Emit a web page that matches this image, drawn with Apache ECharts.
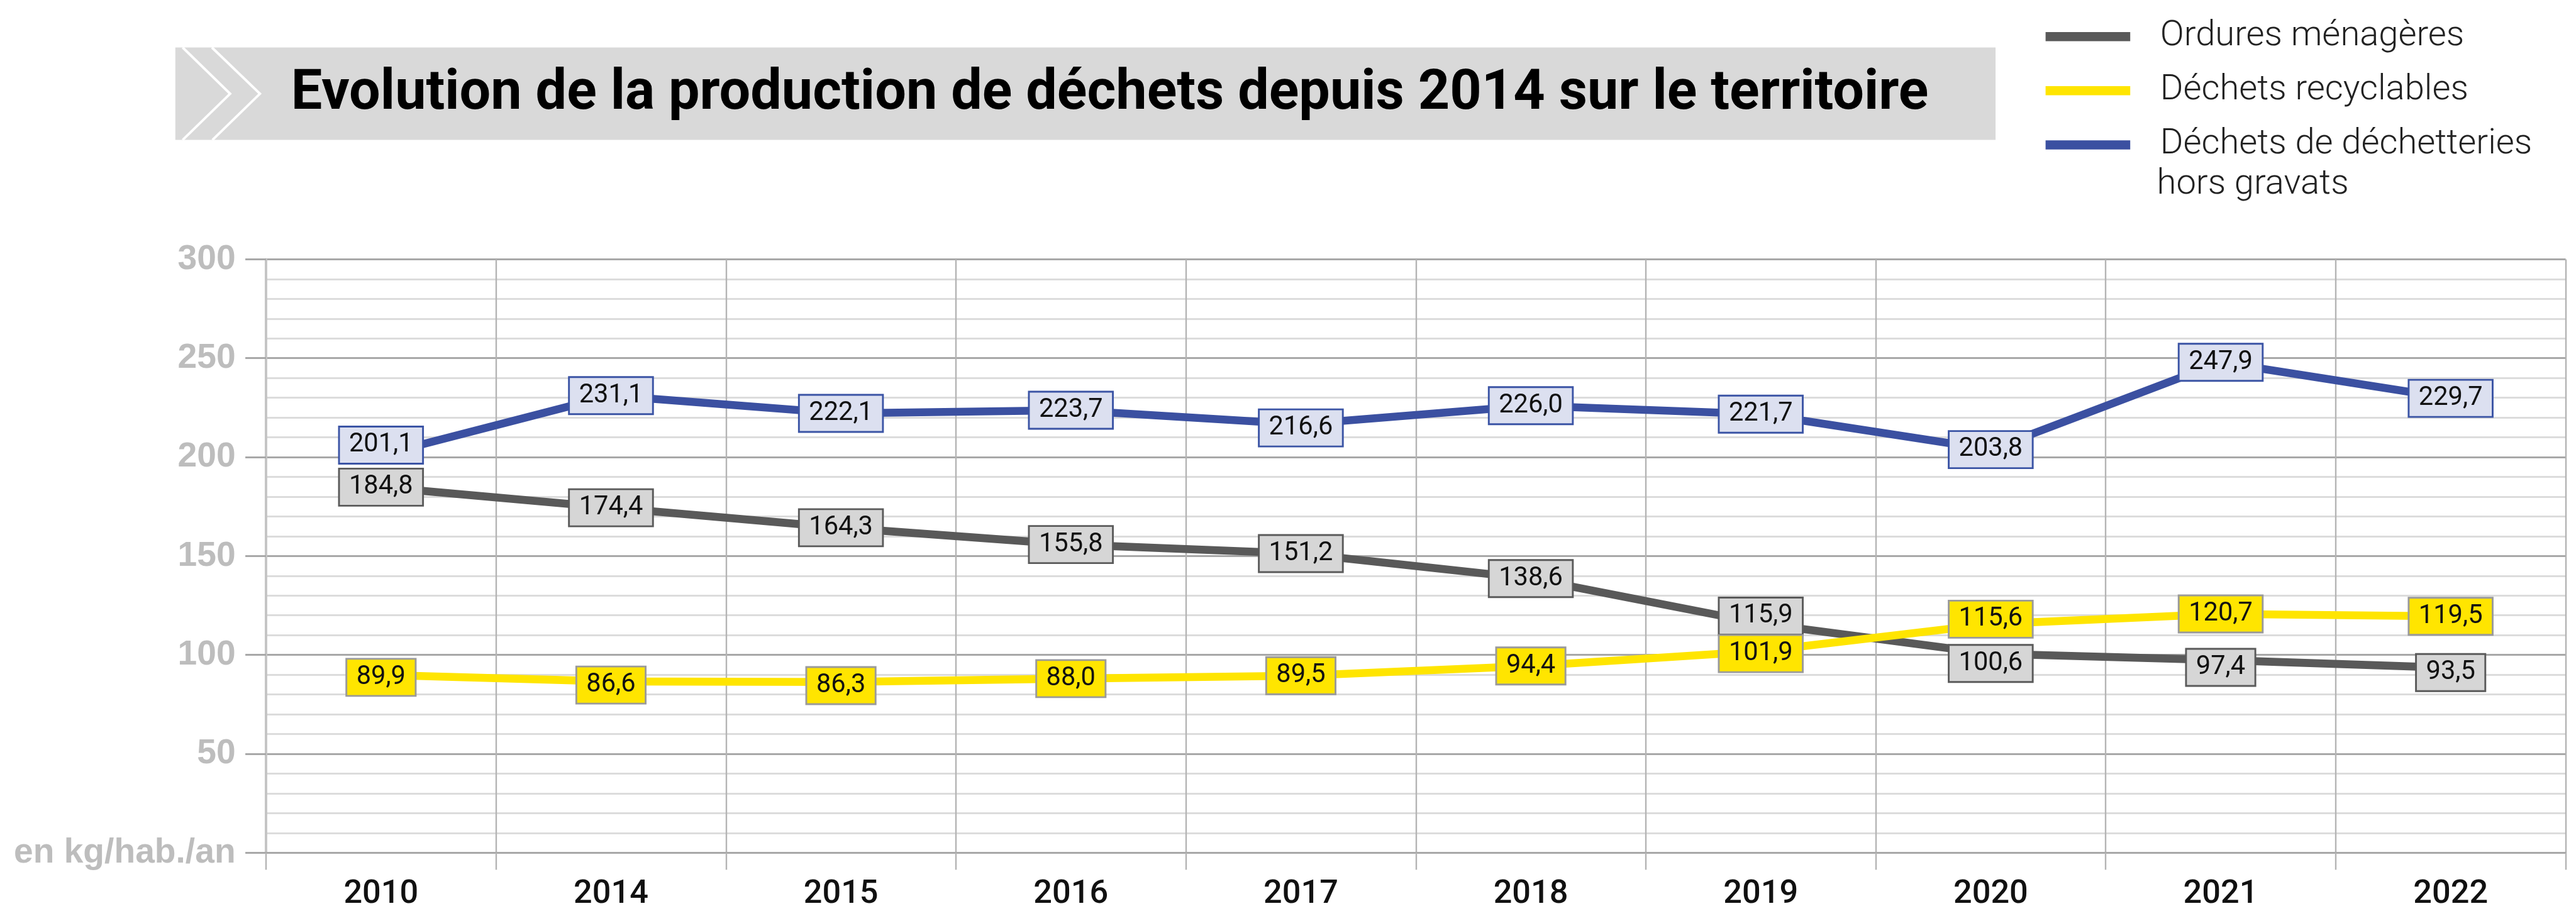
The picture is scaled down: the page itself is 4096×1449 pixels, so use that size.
<!DOCTYPE html>
<html>
<head>
<meta charset="utf-8">
<title>Evolution de la production de déchets</title>
<script src="https://cdn.jsdelivr.net/npm/echarts@6/dist/echarts.min.js"></script>
<style>
  html, body { margin: 0; padding: 0; background: #fff; }
  #chart { width: 4096px; height: 1449px; }
</style>
</head>
<body>
<div id="chart"></div>
<script>
// data
var years = ['2010', '2014', '2015', '2016', '2017', '2018', '2019', '2020', '2021', '2022'];
var ordures = [184.8, 174.4, 164.3, 155.8, 151.2, 138.6, 115.9, 100.6, 97.4, 93.5];
var recyclables = [89.9, 86.6, 86.3, 88.0, 89.5, 94.4, 101.9, 115.6, 120.7, 119.5];
var dechetteries = [201.1, 231.1, 222.1, 223.7, 216.6, 226.0, 221.7, 203.8, 247.9, 229.7];
var seriesNames = ['Ordures ménagères', 'Déchets recyclables', 'Déchets de déchetteries hors gravats'];
var yTicks = [0, 50, 100, 150, 200, 250, 300];
var yTickLabels = ['en kg/hab./an', '50', '100', '150', '200', '250', '300'];

// small vertical nudges of the value boxes (px on the original), to keep them apart
var nudgeOrdures = [0, 0, 0, 0, 0, 0, -12, 16, 12, 8];
var nudgeRecyclables = [4, 6, 6, 0, 0, 0, 4, -8, 0, 0];
var nudgeDechetteries = [-16, 0, 0, 0, 6, 0, 0, 0, 0, 0];

// everything was measured on the 4230px wide original, drawn at 0.968
var S = 0.968;
function s(v) { return Math.round(v * S * 10) / 10; }

function frNum(v) {
    return v.toFixed(1).replace('.', ',');
}

function makeSeries(name, data, nudge, lineColor, bg, border) {
    return {
        name: name,
        type: 'line',
        data: data.map(function (v, i) {
            if (!nudge[i]) return v;
            return { value: v, label: { offset: [0, s(nudge[i])] } };
        }),
        symbol: 'rect',
        symbolSize: 1,
        showSymbol: true,
        lineStyle: { color: lineColor, width: s(13) },
        itemStyle: { color: lineColor },
        label: {
            show: true,
            position: 'inside',
            formatter: function (p) { return frNum(p.value); },
            fontFamily: 'Roboto',
            fontSize: s(43),
            lineHeight: s(46),
            color: '#111',
            backgroundColor: bg,
            borderColor: border,
            borderWidth: s(3),
            padding: [s(6), s(15)]
        },
        emphasis: { disabled: true }
    };
}

var chart = echarts.init(document.getElementById('chart'));

chart.setOption({
    animation: false,
    backgroundColor: '#fff',
    grid: {
        left: s(437),
        right: s(17),
        top: s(426),
        bottom: s(79),
        containLabel: false
    },
    legend: {
        orient: 'vertical',
        left: s(3355),
        top: s(21),
        icon: 'rect',
        itemWidth: s(139),
        itemHeight: s(15),
        itemGap: s(21),
        selectedMode: false,
        data: seriesNames,
        formatter: function (name) {
            // second line of the last item is added as a separate text below
            return name === seriesNames[2] ? 'Déchets de déchetteries' : name;
        },
        textStyle: {
            fontFamily: 'Roboto',
            fontWeight: 300,
            fontSize: s(58),
            lineHeight: s(68),
            color: '#222',
            padding: [0, 0, 0, s(44)]
        }
    },
    graphic: [
        {
            type: 'rect',
            shape: { x: s(288), y: s(78), width: s(2990), height: s(152) },
            style: { fill: '#d9d9d9' },
            z: 0
        },
        {
            type: 'polyline',
            shape: { points: [[s(300), s(78)], [s(378), s(154)], [s(300), s(230)]] },
            style: { stroke: '#fff', lineWidth: s(4), fill: null },
            z: 1
        },
        {
            type: 'polyline',
            shape: { points: [[s(348), s(78)], [s(427), s(154)], [s(349), s(230)]] },
            style: { stroke: '#fff', lineWidth: s(4), fill: null },
            z: 1
        },
        {
            type: 'text',
            x: s(478),
            y: s(156),
            z: 2,
            style: {
                text: 'Evolution de la production de déchets depuis 2014 sur le territoire',
                fontFamily: 'Roboto',
                fontWeight: 'bold',
                fontSize: s(91),
                fill: '#000',
                verticalAlign: 'middle'
            }
        },
        {
            type: 'text',
            x: s(3543),
            y: s(304),
            z: 2,
            style: {
                text: 'hors gravats',
                fontFamily: 'Roboto',
                fontWeight: 300,
                fontSize: s(58),
                fill: '#222',
                verticalAlign: 'middle'
            }
        }
    ],
    xAxis: {
        type: 'category',
        data: years,
        boundaryGap: true,
        axisLine: { show: true, lineStyle: { color: '#a8a8a8', width: s(3) } },
        axisTick: { show: true, interval: 0, length: s(28), lineStyle: { color: '#b4b4b4', width: s(2.5) } },
        axisLabel: {
            interval: 0,
            margin: s(42),
            fontFamily: 'Roboto',
            fontWeight: 500,
            fontSize: s(54),
            color: '#111'
        },
        splitLine: { show: true, interval: 0, lineStyle: { color: '#b4b4b4', width: s(2.5) } }
    },
    yAxis: {
        type: 'value',
        min: yTicks[0],
        max: yTicks[yTicks.length - 1],
        interval: 50,
        axisLine: { show: true, lineStyle: { color: '#c4c4c4', width: s(4) } },
        axisTick: { show: true, length: s(34), lineStyle: { color: '#a8a8a8', width: s(3) } },
        axisLabel: {
            margin: s(50),
            fontFamily: 'Liberation Sans',
            fontWeight: 'bold',
            fontSize: s(57),
            color: '#bdbdbd',
            formatter: function (v) {
                var i = yTicks.indexOf(v);
                return i >= 0 ? yTickLabels[i] : '';
            }
        },
        splitLine: { show: true, lineStyle: { color: '#a8a8a8', width: s(3) } },
        minorTick: { show: false, splitNumber: 5 },
        minorSplitLine: { show: true, lineStyle: { color: '#dcdcdc', width: s(3) } }
    },
    series: [
        makeSeries(seriesNames[0], ordures, nudgeOrdures, '#595959', '#d6d6d6', '#5a5a5a'),
        makeSeries(seriesNames[1], recyclables, nudgeRecyclables, '#ffe500', '#ffe500', '#9a9a9a'),
        makeSeries(seriesNames[2], dechetteries, nudgeDechetteries, '#3b50a1', '#dce0f0', '#3b54a5')
    ]
});
</script>
</body>
</html>
